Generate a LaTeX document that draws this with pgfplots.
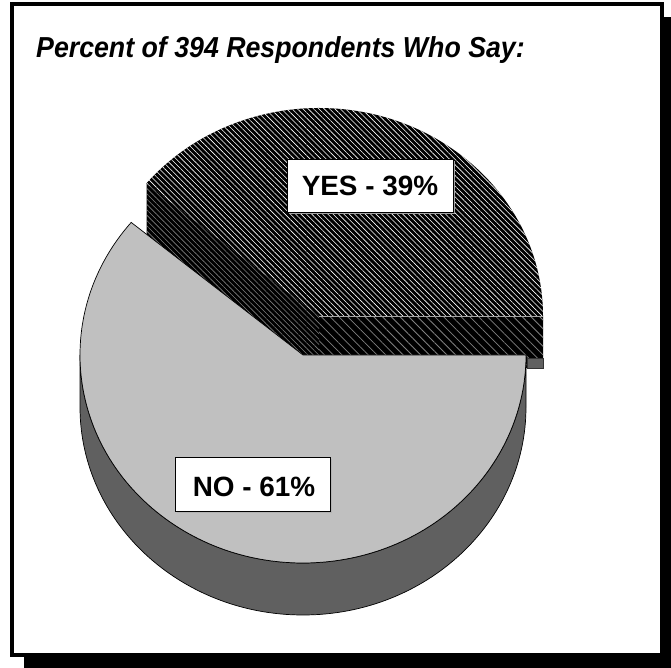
\documentclass[border=0pt]{standalone}
\usepackage{fontspec}
\setmainfont{Liberation Sans}
\usepackage{pgfplots}
\pgfplotsset{compat=1.18}
\usepackage{pgfplotstable}
\usetikzlibrary{patterns.meta}

\definecolor{nolight}{HTML}{C0C0C0}
\definecolor{noside}{HTML}{606060}

\tikzset{
  yestop/.style={fill=black, postaction={pattern={Lines[angle=-45,distance=3.8pt,line width=0.6pt]}, pattern color=white}},
  yesside/.style={fill=black, postaction={pattern={Lines[angle=-45,distance=6.2pt,line width=0.8pt]}, pattern color=gray}},
  yesside2/.style={fill=black, postaction={pattern={Lines[angle=-45,distance=3.8pt,line width=0.6pt]}, pattern color=gray}},
}

\pgfplotstableread{
label value
YES 39
NO 61
}\piedata

\begin{document}%
\begin{tikzpicture}
\pgfplotstablegetelem{0}{value}\of\piedata
\pgfmathsetmacro\yesval{\pgfplotsretval}
\pgfplotstablegetelem{1}{value}\of\piedata
\pgfmathsetmacro\noval{\pgfplotsretval}
\pgfmathsetmacro\angsplit{3.6*\yesval}
\pgfmathsetmacro\angend{\angsplit+3.6*\noval}
\begin{axis}[hide axis, scale only axis, width=671bp, height=668bp,
  xmin=0, xmax=671, ymin=0, ymax=668, enlargelimits=false, clip=false]
\addplot[draw=none] coordinates {(0,0) (671,668)};
\coordinate (BL) at (axis cs:0,0);
\coordinate (TR) at (axis cs:671,668);
% frame with shadow
\fill[black] (axis cs:24,0) rectangle (axis cs:671,651);
\filldraw[fill=white, draw=black, line width=4bp] (axis cs:12,13) rectangle (axis cs:662,663.5);

% title
\node[anchor=base west, inner sep=0, font=\fontsize{29}{32}\selectfont\bfseries\itshape]
  at (axis cs:36,610) {\scalebox{0.925}[1]{Percent of 394 Respondents Who Say:}};

% ---- YES slice (exploded) ----
\path[yesside] (axis cs:319,352) -- ++(224bp,0) -- ++(0,-52bp) -- (axis cs:319,300) -- cycle;
\path[yesside2] (axis cs:319,352) -- ++(\angsplit:224bp and 208bp) -- ++(0,-52bp) -- (axis cs:319,300) -- cycle;
\draw[gray!70, line width=0.6bp] (axis cs:319,352) ++(\angsplit:224bp and 208bp) -- ++(0,-52bp);
\filldraw[fill=gray!75!black, draw=gray!40!black, line width=0.6bp] (axis cs:527,310) rectangle (axis cs:543,300);
\path[yestop] (axis cs:319,352) -- ++(0:224bp and 208bp)
  arc[start angle=0, end angle=\angsplit, x radius=224bp, y radius=208bp] -- cycle;
\draw[gray!70, line width=0.7bp] (axis cs:319,352) -- ++(224bp,0);

% ---- NO slice ----
\filldraw[fill=noside, draw=black, line width=0.7bp] (axis cs:80,313)
  arc[start angle=180, end angle=360, x radius=223bp, y radius=208bp] -- ++(0,-52bp)
  arc[start angle=360, end angle=180, x radius=223bp, y radius=208bp] -- cycle;
\filldraw[fill=nolight, draw=black, line width=0.7bp] (axis cs:303,313) -- ++(\angsplit:223bp and 208bp)
  arc[start angle=\angsplit, end angle=\angend, x radius=223bp, y radius=208bp] -- cycle;

% ---- labels ----
\fill[gray!70] (axis cs:289,454) rectangle (axis cs:455,507);
\filldraw[fill=white, draw=black, line width=0.6bp] (axis cs:287,456) rectangle (axis cs:453,509);
\node[anchor=base, inner sep=0, font=\fontsize{28}{30}\selectfont\bfseries] at (axis cs:370,472) {YES - 39\%};

\fill[gray!60] (axis cs:177,155) rectangle (axis cs:332,209);
\filldraw[fill=white, draw=black, line width=0.6bp] (axis cs:175.7,156.3) rectangle (axis cs:330,210.7);
\node[anchor=base, inner sep=0, font=\fontsize{28}{30}\selectfont\bfseries] at (axis cs:254,171.3) {NO - 61\%};
\end{axis}
\pgfresetboundingbox
\useasboundingbox (BL) rectangle (TR);
\end{tikzpicture}%
\end{document}
